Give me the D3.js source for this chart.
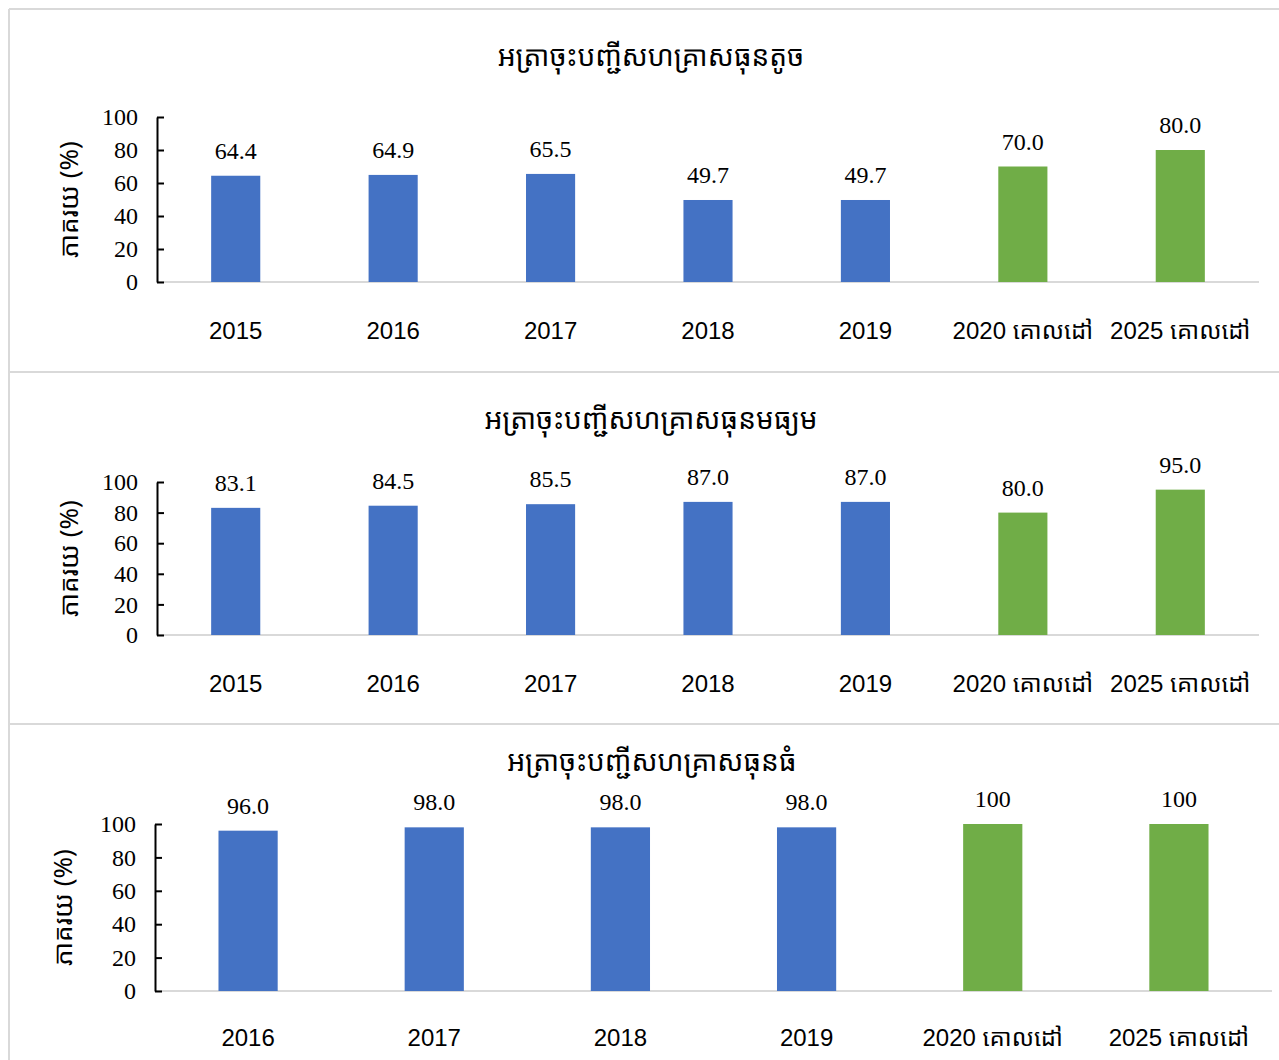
<!DOCTYPE html>
<html>
<head>
<meta charset="utf-8">
<script src="https://cdn.jsdelivr.net/npm/d3@7"></script>
<style>
  html, body { margin: 0; padding: 0; background: #fff; }
  svg { display: block; }
  .khmer { font-family: "Noto Sans Khmer", "Noto Serif Khmer", "Khmer OS", "Khmer OS System", sans-serif; }
  .serif { font-family: "Liberation Serif", "Times New Roman", serif; }
  .sans { font-family: "Liberation Sans", "Noto Sans Khmer", sans-serif; }
</style>
</head>
<body>
<svg id="chart" width="1279" height="1060"></svg>
<script>
// Registration rates of small, medium and large enterprises (%)
const smallTitle = "អត្រាចុះបញ្ជីសហគ្រាសធុនតូច";
const mediumTitle = "អត្រាចុះបញ្ជីសហគ្រាសធុនមធ្យម";
const largeTitle = "អត្រាចុះបញ្ជីសហគ្រាសធុនធំ";
const yAxisTitle = "ភាគរយ (%)";

const smallCategories = ["2015", "2016", "2017", "2018", "2019", "2020 គោលដៅ", "2025 គោលដៅ"];
const smallValues = [64.4, 64.9, 65.5, 49.7, 49.7, 70.0, 80.0];
const smallKinds = ["actual", "actual", "actual", "actual", "actual", "target", "target"];

const mediumCategories = ["2015", "2016", "2017", "2018", "2019", "2020 គោលដៅ", "2025 គោលដៅ"];
const mediumValues = [83.1, 84.5, 85.5, 87.0, 87.0, 80.0, 95.0];
const mediumKinds = ["actual", "actual", "actual", "actual", "actual", "target", "target"];

const largeCategories = ["2016", "2017", "2018", "2019", "2020 គោលដៅ", "2025 គោលដៅ"];
const largeValues = [96.0, 98.0, 98.0, 98.0, 100, 100];
const largeKinds = ["actual", "actual", "actual", "actual", "target", "target"];

const yTicks = [0, 20, 40, 60, 80, 100];

const kindColor = { actual: "#4472C4", target: "#70AD47" };
const fmtValue = v => v >= 100 ? String(v) : v.toFixed(1);

const svg = d3.select("#chart");

// panel frame lines
const frame = svg.append("g").attr("stroke", "#d9d9d9").attr("stroke-width", 2);
frame.append("line").attr("x1", 9).attr("x2", 9).attr("y1", 9).attr("y2", 1060);
[9, 372, 724].forEach(y => {
  frame.append("line").attr("x1", 9).attr("x2", 1279).attr("y1", y).attr("y2", y);
});

function drawPanel(cfg) {
  const g = svg.append("g");
  const x = d3.scaleBand().domain(cfg.categories).range([cfg.left, cfg.right]).padding(0);
  const y = d3.scaleLinear().domain([0, 100]).range([cfg.bottom, cfg.top]);
  const barW = x.bandwidth() * cfg.barRatio;
  const rows = cfg.categories.map((c, i) => ({ c, v: cfg.values[i], k: cfg.kinds[i] }));

  // title
  g.append("text").attr("class", "khmer")
    .attr("x", cfg.titleX).attr("y", cfg.titleY)
    .attr("text-anchor", "middle").attr("dominant-baseline", "central")
    .attr("font-size", 28).attr("fill", "#000")
    .text(cfg.title);

  // baseline
  g.append("line")
    .attr("x1", cfg.left).attr("x2", cfg.right)
    .attr("y1", y(0)).attr("y2", y(0))
    .attr("stroke", "#d9d9d9").attr("stroke-width", 2);

  // bars
  g.selectAll("rect.bar").data(rows).join("rect")
    .attr("class", "bar")
    .attr("x", d => x(d.c) + (x.bandwidth() - barW) / 2)
    .attr("width", barW)
    .attr("y", d => y(d.v))
    .attr("height", d => y(0) - y(d.v))
    .attr("fill", d => kindColor[d.k]);

  // value labels
  g.selectAll("text.val").data(rows).join("text")
    .attr("class", "val serif")
    .attr("x", d => x(d.c) + x.bandwidth() / 2)
    .attr("y", d => y(d.v) - 17)
    .attr("text-anchor", "middle")
    .attr("font-size", 24).attr("fill", "#000")
    .text(d => fmtValue(d.v));

  // y axis, ticks pointing inward
  const yAxis = d3.axisLeft(y).tickValues(yTicks)
    .tickSizeInner(-7).tickSizeOuter(0).tickPadding(19)
    .tickFormat(d3.format("d"));
  const ya = g.append("g").attr("transform", `translate(${cfg.left},0)`).call(yAxis);
  ya.select(".domain").attr("stroke", "#000").attr("stroke-width", 2);
  ya.selectAll(".tick line").attr("stroke", "#000").attr("stroke-width", 2);
  ya.selectAll(".tick text").attr("class", "serif")
    .attr("font-size", 24).attr("fill", "#000");

  // category labels
  g.selectAll("text.cat").data(rows).join("text")
    .attr("class", "cat sans")
    .attr("x", d => x(d.c) + x.bandwidth() / 2)
    .attr("y", cfg.catY)
    .attr("text-anchor", "middle").attr("dominant-baseline", "central")
    .attr("font-size", 24).attr("fill", "#000")
    .text(d => d.c);

  // y axis title
  g.append("text").attr("class", "khmer")
    .attr("transform", `translate(${cfg.yTitleX},${(cfg.top + cfg.bottom) / 2}) rotate(-90)`)
    .attr("text-anchor", "middle").attr("dominant-baseline", "central")
    .attr("font-size", 26).attr("fill", "#000")
    .text(yAxisTitle);
}

drawPanel({
  title: smallTitle, categories: smallCategories, values: smallValues, kinds: smallKinds,
  left: 157, right: 1259, top: 117, bottom: 282, barRatio: 0.312,
  titleX: 651, titleY: 55, catY: 330, yTitleX: 68
});
drawPanel({
  title: mediumTitle, categories: mediumCategories, values: mediumValues, kinds: mediumKinds,
  left: 157, right: 1259, top: 482, bottom: 635, barRatio: 0.312,
  titleX: 651, titleY: 418, catY: 683, yTitleX: 68
});
drawPanel({
  title: largeTitle, categories: largeCategories, values: largeValues, kinds: largeKinds,
  left: 155, right: 1272, top: 824, bottom: 991, barRatio: 0.318,
  titleX: 652, titleY: 760, catY: 1037, yTitleX: 62
});
</script>
</body>
</html>
